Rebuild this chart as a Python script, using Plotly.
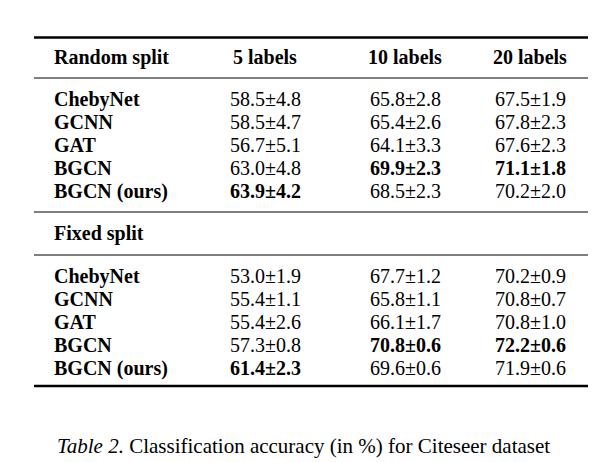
import plotly.graph_objects as go

methods = ["ChebyNet", "GCNN", "GAT", "BGCN", "BGCN (ours)"]
headers = ["5 labels", "10 labels", "20 labels"]
random_vals = [["58.5±4.8", "65.8±2.8", "67.5±1.9"],
               ["58.5±4.7", "65.4±2.6", "67.8±2.3"],
               ["56.7±5.1", "64.1±3.3", "67.6±2.3"],
               ["63.0±4.8", "69.9±2.3", "71.1±1.8"],
               ["63.9±4.2", "68.5±2.3", "70.2±2.0"]]
random_bold = [(3, 1), (3, 2), (4, 0)]
fixed_vals = [["53.0±1.9", "67.7±1.2", "70.2±0.9"],
              ["55.4±1.1", "65.8±1.1", "70.8±0.7"],
              ["55.4±2.6", "66.1±1.7", "70.8±1.0"],
              ["57.3±0.8", "70.8±0.6", "72.2±0.6"],
              ["61.4±2.3", "69.6±0.6", "71.9±0.6"]]
fixed_bold = [(3, 1), (3, 2), (4, 0)]
caption = "<i>Table 2.</i> Classification accuracy (in %) for Citeseer dataset"

FONT = "Liberation Serif"
FS = 20
OFF = 8
col_x = [265, 405, 530]
name_x = 52
rand_y = [99, 122, 145, 168, 191]
fix_y = [276, 299, 322, 345, 368]

fig = go.Figure()
ann = []
def add(x, y, t, anchor="center", size=FS):
    ann.append(dict(x=x - OFF, y=y - OFF, xref="x", yref="y", text=t, showarrow=False,
                    xanchor=anchor, yanchor="middle",
                    font=dict(family=FONT, size=size, color="black")))

add(name_x, 57, "<b>Random split</b>", "left")
for h, x in zip(headers, col_x):
    add(x, 57, f"<b>{h}</b>")
for vals, ys, bold in [(random_vals, rand_y, random_bold), (fixed_vals, fix_y, fixed_bold)]:
    for i, (m, y) in enumerate(zip(methods, ys)):
        add(name_x, y, f"<b>{m}</b>", "left")
        for j, x in enumerate(col_x):
            t = vals[i][j]
            add(x, y, f"<b>{t}</b>" if (i, j) in bold else t)
add(name_x, 233, "<b>Fixed split</b>", "left")
add(303, 446, caption, size=21)

shapes = []
for y, w in [(37.5, 2.5), (78, 1), (212, 1), (255, 1), (386, 2.5)]:
    shapes.append(dict(type="line", xref="x", yref="y", x0=34 - OFF, x1=596, y0=y - OFF, y1=y - OFF,
                       line=dict(color="black", width=w)))

fig.add_trace(go.Scatter(x=[0], y=[0], mode="markers", marker=dict(opacity=0), hoverinfo="skip"))
fig.update_layout(width=596, height=462, margin=dict(l=0, r=0, t=0, b=0),
                  plot_bgcolor="white", paper_bgcolor="white", showlegend=False,
                  annotations=ann, shapes=shapes,
                  xaxis=dict(range=[0, 596], visible=False, fixedrange=True),
                  yaxis=dict(range=[462, 0], visible=False, fixedrange=True))
fig.write_html("out.html")
